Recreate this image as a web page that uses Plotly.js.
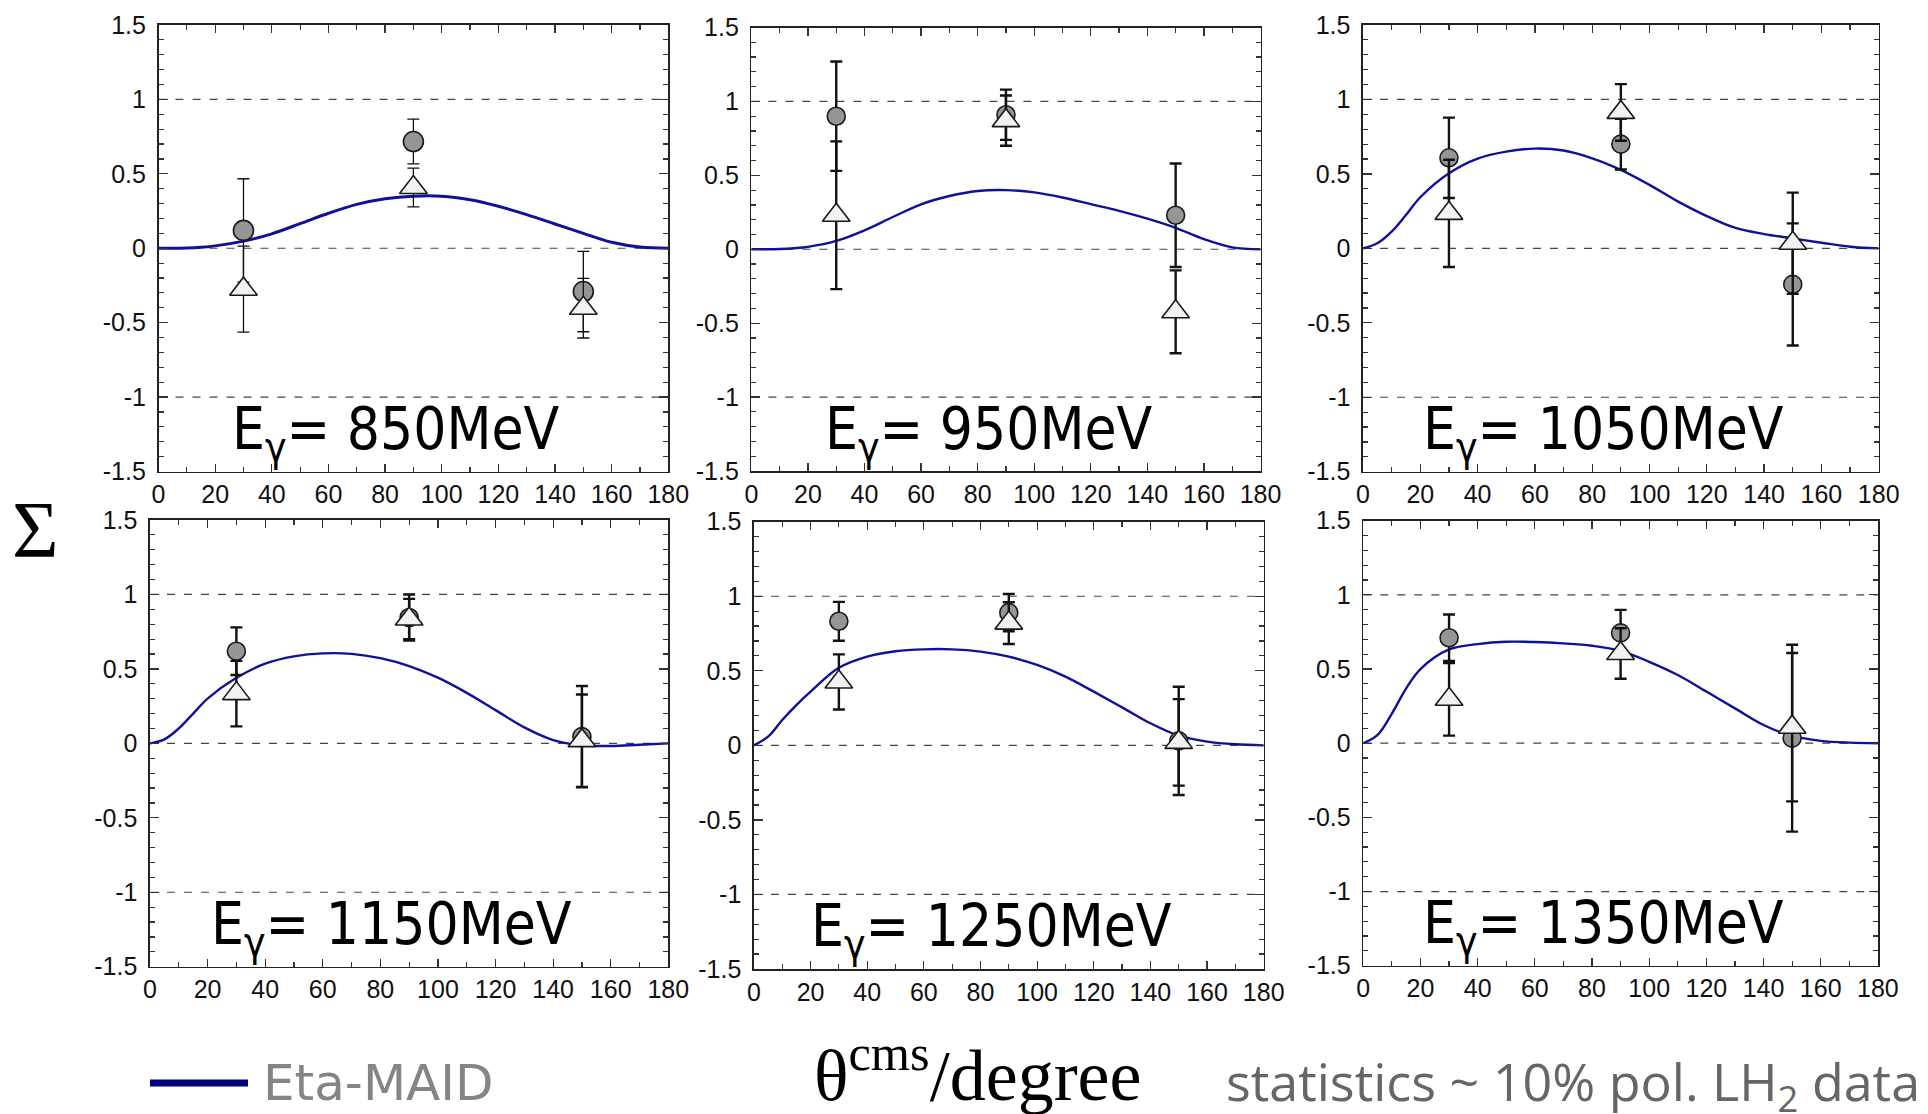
<!DOCTYPE html>
<html>
<head>
<meta charset="utf-8">
<script src="https://cdn.plot.ly/plotly-3.0.1.min.js"></script>
<style>
  html, body { margin: 0; padding: 0; background: #ffffff; }
  #chart { width: 1928px; height: 1114px; }
</style>
</head>
<body>
<div id="chart"></div>
<script>
// ---------------- data ----------------
const energies = ['850', '950', '1050', '1150', '1250', '1350'];
const dataAngles = [30, 90, 150];

// filled circles
const circle850 = [0.12, 0.717, -0.291];
const circleErr850 = [0.347, 0.15, 0.27];
const circle950 = [0.90, 0.91, 0.23];
const circleErr950 = [0.37, 0.17, 0.35];
const circle1050 = [0.608, 0.70, -0.242];
const circleErr1050 = [0.27, 0.17, 0.41];
const circle1150 = [0.619, 0.845, 0.045];
const circleErr1150 = [0.16, 0.155, 0.34];
const circle1250 = [0.832, 0.89, 0.03];
const circleErr1250 = [0.13, 0.125, 0.363];
const circle1350 = [0.711, 0.744, 0.034];
const circleErr1350 = [0.157, 0.155, 0.63];

// open triangles
const tri850 = [-0.275, 0.408, -0.403];
const triErr850 = [0.289, 0.13, 0.2];
const tri950 = [0.23, 0.87, -0.423];
const triErr950 = [0.5, 0.17, 0.28];
const tri1050 = [0.235, 0.913, 0.034];
const triErr1050 = [0.36, 0.19, 0.34];
const tri1150 = [0.334, 0.835, 0.018];
const triErr1150 = [0.22, 0.135, 0.31];
const tri1250 = [0.425, 0.82, 0.02];
const triErr1250 = [0.185, 0.14, 0.29];
const tri1350 = [0.296, 0.605, 0.108];
const triErr1350 = [0.245, 0.17, 0.5];

// Eta-MAID curves
const thetaCurve = [0, 5, 10, 15, 20, 30, 40, 50, 60, 70, 80, 90, 100, 110, 120, 130, 140, 150, 160, 170, 180];
const maid850  = [0, 0.0, 0.002, 0.007, 0.016, 0.048, 0.097, 0.165, 0.235, 0.295, 0.333, 0.35, 0.35, 0.326, 0.282, 0.226, 0.163, 0.10, 0.04, 0.008, 0];
const maid950  = [0, 0.0, 0.002, 0.007, 0.016, 0.056, 0.128, 0.218, 0.304, 0.36, 0.394, 0.40, 0.385, 0.35, 0.305, 0.26, 0.207, 0.145, 0.068, 0.013, 0];
const maid1050 = [0, 0.034, 0.112, 0.224, 0.343, 0.504, 0.603, 0.65, 0.67, 0.657, 0.605, 0.527, 0.426, 0.314, 0.217, 0.137, 0.096, 0.067, 0.038, 0.011, 0];
const maid1150 = [0, 0.027, 0.10, 0.20, 0.30, 0.44, 0.535, 0.584, 0.604, 0.601, 0.572, 0.519, 0.441, 0.339, 0.223, 0.107, 0.022, -0.013, -0.018, -0.009, 0];
const maid1250 = [0, 0.058, 0.17, 0.27, 0.36, 0.52, 0.595, 0.631, 0.644, 0.644, 0.629, 0.595, 0.539, 0.461, 0.36, 0.255, 0.148, 0.065, 0.025, 0.007, 0];
const maid1350 = [0, 0.056, 0.20, 0.37, 0.50, 0.632, 0.668, 0.684, 0.682, 0.673, 0.657, 0.623, 0.549, 0.46, 0.348, 0.235, 0.123, 0.049, 0.016, 0.004, 0];

// ticks
const xTickVals = [0, 20, 40, 60, 80, 100, 120, 140, 160, 180];
const xTickLabels = ['0', '20', '40', '60', '80', '100', '120', '140', '160', '180'];
const yTickVals = [-1.5, -1, -0.5, 0, 0.5, 1, 1.5];
const yTickLabels = ['-1.5', '-1', '-0.5', '0', '0.5', '1', '1.5'];
const dashedLevels = [1, 0, -1];

// ---------------- assembly ----------------
const circles = [circle850, circle950, circle1050, circle1150, circle1250, circle1350];
const circleErrs = [circleErr850, circleErr950, circleErr1050, circleErr1150, circleErr1250, circleErr1350];
const tris = [tri850, tri950, tri1050, tri1150, tri1250, tri1350];
const triErrs = [triErr850, triErr950, triErr1050, triErr1150, triErr1250, triErr1350];
const curves = [maid850, maid950, maid1050, maid1150, maid1250, maid1350];

const W = 1928, H = 1114;
// panel pixel boxes [left, right, top, bottom]
const boxes = [
  [158.5, 668.3, 25, 471.5],
  [751.4, 1260.5, 27.5, 471],
  [1363, 1878.7, 25, 471.7],
  [150, 668.3, 520, 966.7],
  [753.9, 1263.7, 521.7, 969],
  [1363.3, 1877.9, 520.7, 965.7]
];

const traces = [];
const layout = {
  width: W, height: H,
  margin: {l: 0, r: 0, t: 0, b: 0, pad: 0},
  paper_bgcolor: '#ffffff',
  plot_bgcolor: '#ffffff',
  showlegend: false,
  shapes: [],
  annotations: []
};

const tickFont = {family: 'Liberation Sans, Arial, sans-serif', size: 25, color: '#111111'};

for (let i = 0; i < 6; i++) {
  const sx = i === 0 ? '' : String(i + 1);
  const xa = 'x' + sx, ya = 'y' + sx;
  const b = boxes[i];
  const barW = i === 0 ? 1.3 : 2.4;

  traces.push({
    x: thetaCurve, y: curves[i], xaxis: xa, yaxis: ya, mode: 'lines',
    line: {color: '#10109c', width: i === 0 ? 3 : 2.4, shape: 'spline', smoothing: 1},
    hoverinfo: 'skip'
  });
  traces.push({
    x: dataAngles, y: circles[i], xaxis: xa, yaxis: ya, mode: 'markers',
    marker: {symbol: 'circle', size: i === 0 ? 20 : 18, color: '#959595', line: {color: '#1a1a1a', width: 1.6}},
    error_y: {type: 'data', array: circleErrs[i], visible: true, color: '#111111', thickness: barW, width: 6}
  });
  traces.push({
    x: dataAngles, y: tris[i], xaxis: xa, yaxis: ya, mode: 'markers',
    marker: {symbol: 'triangle-up', size: 24, color: '#f2f2f2', line: {color: '#1a1a1a', width: 1.6}},
    error_y: {type: 'data', array: triErrs[i], visible: true, color: '#111111', thickness: barW, width: 6}
  });

  layout['xaxis' + sx] = {
    domain: [b[0] / W, b[1] / W], anchor: ya, range: [0, 180],
    tickmode: 'array', tickvals: xTickVals, ticktext: xTickLabels,
    ticks: 'inside', ticklen: 8, tickwidth: 1.2, tickcolor: '#333333',
    minor: {tickmode: 'linear', tick0: 0, dtick: 10, ticks: 'inside', ticklen: 5, tickwidth: 1.2, tickcolor: '#333333'},
    mirror: 'ticks', showline: true, linecolor: '#222222', linewidth: 1.6,
    showgrid: false, zeroline: false, tickfont: tickFont, fixedrange: true
  };
  layout['yaxis' + sx] = {
    domain: [1 - b[3] / H, 1 - b[2] / H], anchor: xa, range: [-1.5, 1.5],
    tickmode: 'array', tickvals: yTickVals, ticktext: yTickLabels,
    ticks: 'inside', ticklen: 9, tickwidth: 1.2, tickcolor: '#333333',
    minor: {tickmode: 'linear', tick0: 0, dtick: 0.1, ticks: 'inside', ticklen: 5, tickwidth: 1.2, tickcolor: '#333333'},
    mirror: 'ticks', showline: true, linecolor: '#222222', linewidth: 1.6,
    showgrid: false, zeroline: false, tickfont: tickFont, ticklabelstandoff: 6, fixedrange: true
  };

  dashedLevels.forEach(function (lv) {
    layout.shapes.push({
      type: 'line', xref: xa + ' domain', yref: ya, x0: 0, x1: 1, y0: lv, y1: lv,
      line: {color: '#444444', width: 1.2, dash: '8px,9px'}, layer: 'below'
    });
  });

  layout.annotations.push({
    xref: xa, yref: ya, x: 84, y: -1.24, xanchor: 'center', yanchor: 'middle',
    text: 'E<sub>γ</sub>= ' + energies[i] + 'MeV', showarrow: false,
    font: {family: 'DejaVu Sans Condensed, DejaVu Sans, sans-serif', size: 58, color: '#000000'}
  });
}

// overall labels
layout.annotations.push({
  xref: 'paper', yref: 'paper', x: 35 / W, y: 1 - 530 / H, xanchor: 'center', yanchor: 'middle',
  text: 'Σ', showarrow: false, font: {family: 'Liberation Serif, Times New Roman, serif', size: 80, color: '#000000'}
});
layout.annotations.push({
  xref: 'paper', yref: 'paper', x: 978 / W, y: 1 - 1070 / H, xanchor: 'center', yanchor: 'middle',
  text: 'θ<sup>cms</sup>/degree', showarrow: false, font: {family: 'Liberation Serif, Times New Roman, serif', size: 72, color: '#000000'}
});
layout.annotations.push({
  xref: 'paper', yref: 'paper', x: 261 / W, y: 1 - 1083 / H, xanchor: 'left', yanchor: 'middle',
  text: 'Eta-MAID', showarrow: false, font: {family: 'DejaVu Sans, sans-serif', size: 50, color: '#858585'}
});
layout.annotations.push({
  xref: 'paper', yref: 'paper', x: 1922 / W, y: 1 - 1084 / H, xanchor: 'right', yanchor: 'middle',
  text: 'statistics ~ 10% pol. LH<sub>2</sub> data', showarrow: false, font: {family: 'Open Sans, sans-serif', size: 52, color: '#666666'}
});
layout.shapes.push({
  type: 'line', xref: 'paper', yref: 'paper', x0: 150 / W, x1: 248 / W, y0: 1 - 1083 / H, y1: 1 - 1083 / H,
  line: {color: '#000080', width: 7}
});

Plotly.newPlot('chart', traces, layout, {staticPlot: true, displayModeBar: false});
</script>
</body>
</html>
